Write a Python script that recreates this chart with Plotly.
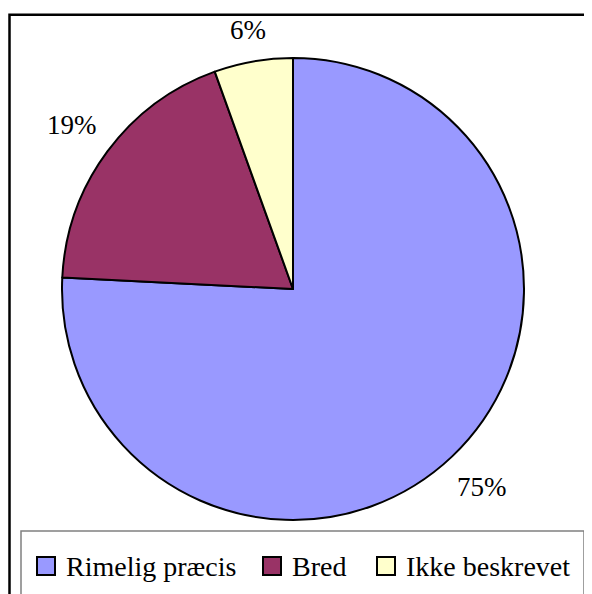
import math
import plotly.graph_objects as go

# ---- data ----
categories = ["Rimelig præcis", "Bred", "Ikke beskrevet"]
values = [75.8, 18.7, 5.5]
label_text = ["75%", "19%", "6%"]
colors = ["#9999FF", "#993366", "#FFFFCC"]

# the page body has an 8px default margin; work in screen pixels and convert
OFF = 8
Wf, Hf = 584, 586


def px(X):
    return (X - OFF) / Wf


def py(Y):
    return 1 - (Y - OFF) / Hf


cx, cy, R = 293, 289, 231
FONT = "Liberation Serif, Times New Roman, serif"
FS_LABEL = 27
FS_LEG = 28

fig = go.Figure(go.Pie(
    labels=categories,
    values=values,
    sort=False,
    direction="clockwise",
    rotation=0,
    textinfo="none",
    marker=dict(colors=colors, line=dict(color="black", width=2)),
    domain=dict(x=[px(cx - R), px(cx + R)], y=[py(cy + R), py(cy - R)]),
    showlegend=False,
))

# data labels placed outside along each slice's mid angle
total = sum(values)
cum = 0.0
annotations = []
for v, t in zip(values, label_text):
    mid = (cum + v / 2) / total * 2 * math.pi
    cum += v
    s, c = math.sin(mid), math.cos(mid)
    hw = 0.5 * FS_LABEL * (0.5 * (len(t) - 1) + 0.833)
    hh = 0.5 * FS_LABEL
    d = R + 16 + abs(s) * hw + abs(c) * hh
    annotations.append(dict(x=px(cx + d * s), y=py(cy - d * c), xref="paper", yref="paper",
                            text=t, showarrow=False, xanchor="center", yanchor="middle",
                            font=dict(family=FONT, size=FS_LABEL, color="black")))

shapes = [
    # outer chart border
    dict(type="rect", xref="paper", yref="paper", x0=px(9.5), y0=-0.1, x1=1.1, y1=py(14.7),
         line=dict(color="black", width=2.5), fillcolor="rgba(0,0,0,0)"),
    # legend box
    dict(type="rect", xref="paper", yref="paper", x0=px(21), y0=-0.1, x1=px(584), y1=py(531),
         line=dict(color="#808080", width=1.5), fillcolor="rgba(0,0,0,0)"),
]

# legend (square swatches + labels)
legend_x = [37, 263, 377]
for xs, name, col in zip(legend_x, categories, colors):
    shapes.append(dict(type="rect", xref="paper", yref="paper",
                       x0=px(xs), x1=px(xs + 18), y0=py(575), y1=py(557),
                       line=dict(color="black", width=2), fillcolor=col))
    annotations.append(dict(x=px(xs + 27), y=py(566), xref="paper", yref="paper",
                            text=name, showarrow=False, xanchor="left", yanchor="middle",
                            font=dict(family=FONT, size=FS_LEG, color="black")))

fig.update_layout(
    width=Wf, height=Hf,
    margin=dict(l=0, r=0, t=0, b=0),
    paper_bgcolor="white", plot_bgcolor="white",
    font=dict(family=FONT, size=FS_LEG, color="black"),
    annotations=annotations,
    shapes=shapes,
)

fig.write_html("out.html")
